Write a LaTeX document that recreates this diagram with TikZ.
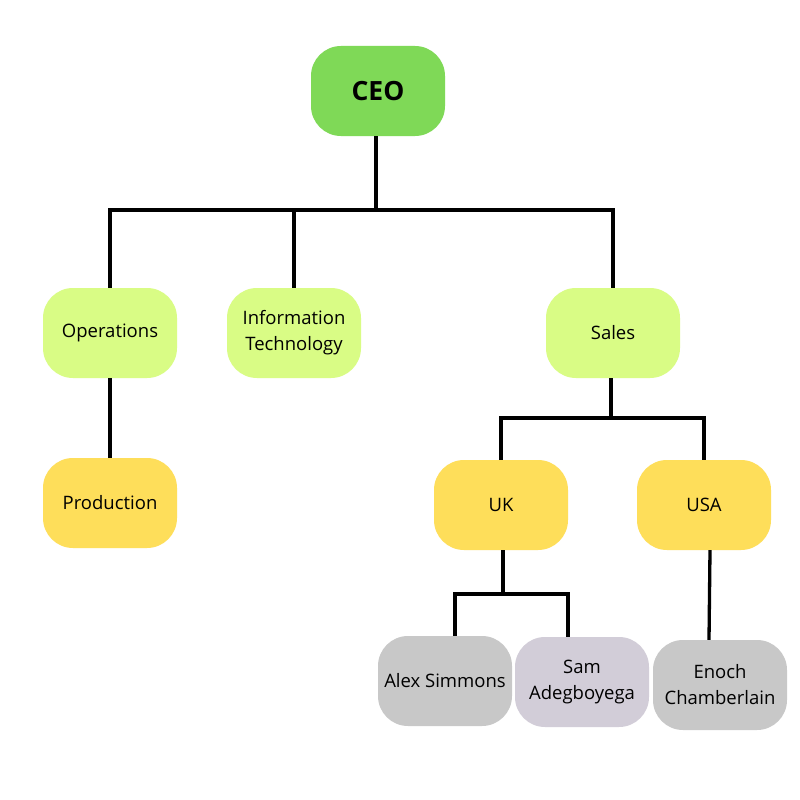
\documentclass[tikz,border=0pt]{standalone}
\usepackage{fontspec}
\setmainfont{Open Sans}
\definecolor{ceogreen}{HTML}{7FD957}
\definecolor{lvltwo}{HTML}{D9FC85}
\definecolor{lvlthree}{HTML}{FEDE5A}
\definecolor{lvlgray}{HTML}{C8C8C8}
\definecolor{lvllav}{HTML}{D2CDD8}
\begin{document}
\begin{tikzpicture}[x=1pt,y=-1pt,
  box/.style={rectangle, rounded corners=30pt, minimum width=134pt, minimum height=90pt, inner sep=2pt, align=center, font=\fontsize{18.5}{26}\selectfont, text=black},
  conn/.style={line width=3.3pt, black}]
\useasboundingbox[fill=white] (0,0) rectangle (800,800);
\node[box, fill=ceogreen, font=\fontsize{26.5}{30}\selectfont\bfseries] (ceo) at (378,91) {CEO};
\node[box, fill=lvltwo] (ops) at (110,333) {Operations};
\node[box, fill=lvltwo] (it) at (294,333) {Information\\Technology};
\node[box, fill=lvltwo] (sales) at (613,333) {Sales};
\node[box, fill=lvlthree] (prod) at (110,503) {Production};
\node[box, fill=lvlthree] (uk) at (501,505) {UK};
\node[box, fill=lvlthree] (usa) at (704,505) {USA};
\node[box, fill=lvlgray] (alex) at (445,681) {Alex Simmons};
\node[box, fill=lvllav] (sam) at (582,682) {Sam\\Adegboyega};
\node[box, fill=lvlgray] (enoch) at (720,685) {Enoch\\Chamberlain};
\coordinate (j1) at (376,210);
\coordinate (j2) at (611,418);
\coordinate (j3) at (503,594);
% CEO level
\draw[conn] (ceo.south -| j1) -- (j1);
\draw[conn] (ops.north) |- (j1) -| (sales.north);
\draw[conn] (it.north) -- (it.north |- j1);
% Operations -> Production
\draw[conn] (ops.south) -- (prod.north);
% Sales level
\draw[conn] (sales.south -| j2) -- (j2);
\draw[conn] (uk.north) |- (j2) -| (usa.north);
% UK level
\draw[conn] (uk.south -| j3) -- (j3);
\draw[conn] (alex.north -| 455,0) |- (j3) -| (sam.north -| 568,0);
% USA -> Enoch
\draw[conn] (usa.south -| 710,0) -- (enoch.north -| 709,0);
\end{tikzpicture}
\end{document}
